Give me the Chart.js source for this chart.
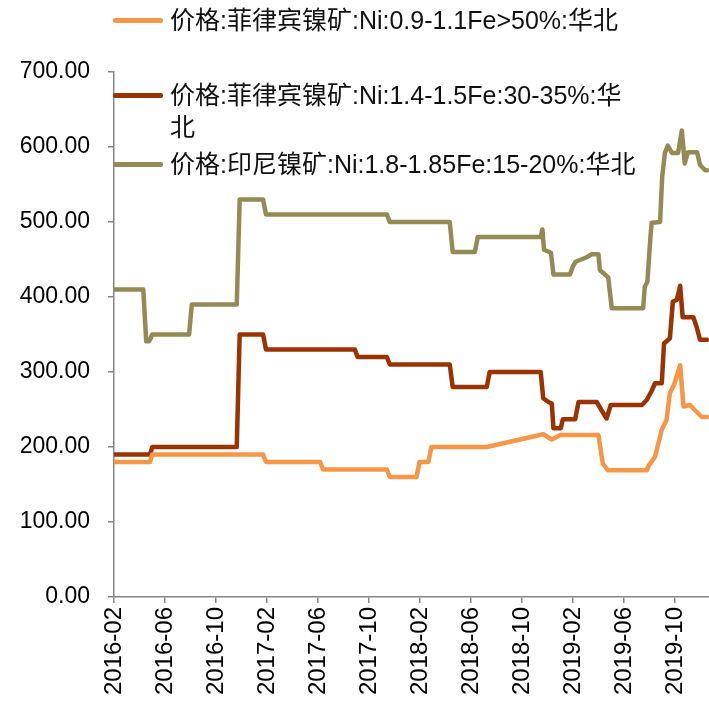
<!DOCTYPE html>
<html>
<head>
<meta charset="utf-8">
<script src="https://cdn.jsdelivr.net/npm/chart.js@4.4.1/dist/chart.umd.min.js"></script>
<style>
  html, body { margin: 0; padding: 0; background: #fff; }
  #wrap { position: relative; width: 709px; height: 704px; overflow: hidden; }
  canvas { position: absolute; left: 0; top: 0; }
  .lg { position: absolute; left: 0; top: 0; }
  .sw { position: absolute; left: 113px; width: 50px; height: 5px; border-radius: 2px; }
  .tx { position: absolute; left: 170px; font-family: "Liberation Sans", "Noto Sans CJK SC", sans-serif; font-size: 25px; line-height: 32px; color: #111; white-space: nowrap; }
</style>
</head>
<body>
<div id="wrap">
  <canvas id="c" width="709" height="704"></canvas>
  <div id="legend"></div>
</div>
<script>
const seriesNames = [
  '价格:菲律宾镍矿:Ni:0.9-1.1Fe>50%:华北',
  '价格:菲律宾镍矿:Ni:1.4-1.5Fe:30-35%:华北',
  '价格:印尼镍矿:Ni:1.8-1.85Fe:15-20%:华北'
];
const seriesColors = ['#F79646', '#993300', '#948A54'];

const tickLabels = ['2016-02','2016-06','2016-10','2017-02','2017-06','2017-10','2018-02','2018-06','2018-10','2019-02','2019-06','2019-10'];
const yTicks = [0, 100, 200, 300, 400, 500, 600, 700];

const orangeDates = ['2016-02-01','2016-04-26','2016-05-01','2017-01-22','2017-01-29','2017-06-06','2017-06-13','2017-11-13','2017-11-20','2018-01-23','2018-01-30','2018-02-21','2018-02-28','2018-07-08','2018-11-21','2018-12-11','2019-01-01','2019-03-31','2019-04-11','2019-04-23','2019-07-25','2019-07-28','2019-08-14','2019-08-30','2019-09-11','2019-09-19','2019-09-29','2019-10-13','2019-10-21','2019-11-06','2019-11-18','2019-12-04','2019-12-16'];
const orangeValues = [180,180,190,190,180,180,170,170,160,160,180,180,200,200,217,210,216,216,178,169,169,174,187,223,236,272,283,309,254,256,249,240,240];

const brownDates = ['2016-02-01','2016-04-26','2016-05-01','2016-11-20','2016-11-27','2017-01-22','2017-01-29','2017-08-28','2017-09-04','2017-11-13','2017-11-20','2018-04-11','2018-04-18','2018-07-08','2018-07-15','2018-11-15','2018-11-21','2018-12-03','2018-12-11','2018-12-15','2019-01-02','2019-01-07','2019-02-06','2019-02-14','2019-03-27','2019-04-08','2019-04-20','2019-04-30','2019-07-13','2019-07-25','2019-08-06','2019-08-14','2019-08-30','2019-09-05','2019-09-19','2019-09-26','2019-10-05','2019-10-13','2019-10-19','2019-11-14','2019-11-22','2019-11-30','2019-12-16'];
const brownValues = [190,190,200,200,350,350,330,330,320,320,310,310,280,280,300,300,265,260,258,225,225,237,237,260,260,249,238,256,256,263,275,285,285,338,345,394,396,415,373,373,360,343,343];

const oliveDates = ['2016-02-01','2016-04-10','2016-04-17','2016-04-24','2016-05-01','2016-07-28','2016-08-04','2016-11-20','2016-11-27','2017-01-22','2017-01-29','2017-11-13','2017-11-20','2018-04-11','2018-04-18','2018-06-10','2018-06-17','2018-11-15','2018-11-19','2018-11-23','2018-12-09','2018-12-15','2019-01-24','2019-01-31','2019-02-07','2019-03-03','2019-03-15','2019-03-31','2019-04-04','2019-04-24','2019-05-02','2019-07-16','2019-07-20','2019-07-26','2019-08-03','2019-08-06','2019-08-26','2019-08-31','2019-09-07','2019-09-14','2019-09-24','2019-10-08','2019-10-17','2019-10-24','2019-11-01','2019-11-23','2019-11-30','2019-12-12','2019-12-16'];
const oliveValues = [410,410,341,341,350,350,390,390,530,530,510,510,500,500,460,460,480,480,490,463,459,430,430,441,447,453,457,457,436,426,385,385,414,420,480,499,500,560,592,602,592,592,622,578,593,593,576,569,569];

const axisStart = '2016-02-01';
const axisEnd = '2019-12-21';

function monthIndex(s) {
  const p = s.split('-').map(Number);
  return (p[0] - 2016) * 12 + (p[1] - 2) + (p[2] - 1) / 30.4;
}
function labelToMonth(l) { return monthIndex(l + '-01'); }
function toPoints(dates, values) {
  return dates.map((d, i) => ({ x: monthIndex(d), y: values[i] }));
}

const allDates = [orangeDates, brownDates, oliveDates];
const allValues = [orangeValues, brownValues, oliveValues];

// HTML legend
const legendDefs = [
  { top: 20, lines: [seriesNames[0]] },
  { top: 95, lines: [seriesNames[1].slice(0, -1), seriesNames[1].slice(-1)] },
  { top: 164, lines: [seriesNames[2]] }
];
const lg = document.getElementById('legend');
legendDefs.forEach((d, i) => {
  const sw = document.createElement('div');
  sw.className = 'sw';
  sw.style.top = (d.top - 2.5) + 'px';
  sw.style.background = seriesColors[i];
  lg.appendChild(sw);
  const tx = document.createElement('div');
  tx.className = 'tx';
  tx.style.top = (d.top - 16) + 'px';
  tx.innerHTML = d.lines.map(t => t.replace(/&/g,'&amp;').replace(/</g,'&lt;').replace(/>/g,'&gt;')).join('<br>');
  lg.appendChild(tx);
});

const axisColor = '#868686';

new Chart(document.getElementById('c'), {
  type: 'line',
  data: {
    datasets: allDates.map((d, i) => ({
      label: seriesNames[i],
      data: toPoints(d, allValues[i]),
      borderColor: seriesColors[i],
      backgroundColor: seriesColors[i],
      borderWidth: 4.5,
      pointRadius: 0,
      tension: 0,
      borderJoinStyle: 'round',
      borderCapStyle: 'round',
      fill: false
    }))
  },
  options: {
    responsive: false,
    animation: false,
    devicePixelRatio: 1,
    layout: { padding: { left: 0, right: 0, top: 72, bottom: 0 } },
    plugins: { legend: { display: false }, tooltip: { enabled: false } },
    scales: {
      x: {
        type: 'linear',
        min: monthIndex(axisStart),
        max: monthIndex(axisEnd),
        afterFit: s => { s.height = 107; },
        afterBuildTicks: s => { s.ticks = tickLabels.map(l => ({ value: labelToMonth(l) })); },
        border: { display: true, color: axisColor, width: 1.5 },
        grid: { display: true, drawOnChartArea: false, drawTicks: true, tickLength: 6, color: axisColor, lineWidth: 1.5 },
        ticks: {
          autoSkip: false,
          minRotation: 90,
          maxRotation: 90,
          padding: 4,
          color: '#000',
          font: { family: '"Liberation Sans", Arial, sans-serif', size: 24 },
          callback: (v) => {
            const idx = tickLabels.findIndex(l => Math.abs(labelToMonth(l) - v) < 0.01);
            return idx >= 0 ? tickLabels[idx] : '';
          }
        }
      },
      y: {
        min: 0,
        max: 700,
        afterFit: s => { s.width = 114; },
        afterBuildTicks: s => { s.ticks = yTicks.map(v => ({ value: v })); },
        border: { display: true, color: axisColor, width: 1.5 },
        grid: { display: true, drawOnChartArea: false, drawTicks: true, tickLength: 6, color: axisColor, lineWidth: 1.5 },
        ticks: {
          padding: 18,
          color: '#000',
          font: { family: '"Liberation Sans", Arial, sans-serif', size: 23 },
          callback: v => Number(v).toFixed(2)
        }
      }
    }
  }
});
</script>
</body>
</html>
